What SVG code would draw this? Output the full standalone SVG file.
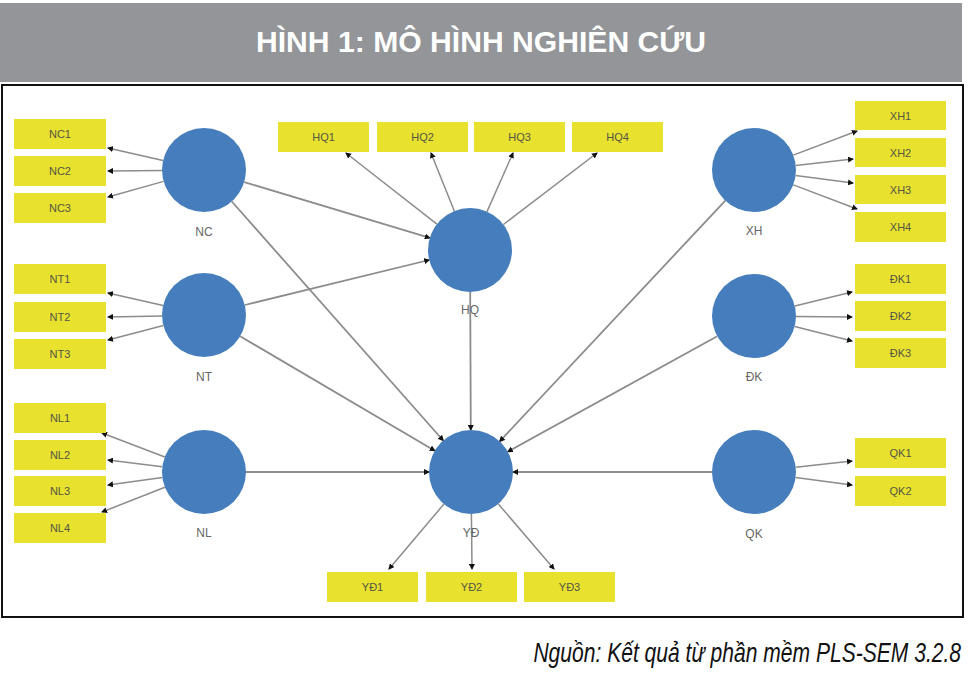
<svg xmlns="http://www.w3.org/2000/svg" width="973" height="673" viewBox="0 0 973 673">
<defs>
<style>
.lv{fill:#467ebd}
.box{fill:#e8e12d}
.bt{font-family:"Liberation Sans",Arial,sans-serif;font-size:11px;fill:#555548;text-anchor:middle;dominant-baseline:central}
.lt{font-family:"Liberation Sans",Arial,sans-serif;font-size:12px;fill:#666;text-anchor:middle;dominant-baseline:central}
.out{stroke:#8c8c8c;stroke-width:1.5;fill:none;marker-end:url(#ah)}
.in{stroke:#8c8c8c;stroke-width:1.8;fill:none;marker-end:url(#ah)}
</style>
<marker id="ah" markerUnits="userSpaceOnUse" markerWidth="6" markerHeight="6" refX="5" refY="3" orient="auto">
<path d="M0,0 L6,3 L0,6 z" fill="#111"/>
</marker>
</defs>
<rect x="0" y="0" width="973" height="673" fill="#fff"/>
<g id="header">
<rect x="0" y="3" width="962" height="79" fill="#939598"/>
<text x="256" y="52" font-family="'Liberation Sans',Arial,sans-serif" font-weight="bold" font-size="30" fill="#fff" textLength="450" lengthAdjust="spacingAndGlyphs">HÌNH 1: MÔ HÌNH NGHIÊN CỨU</text>
</g>
<rect id="frame" x="2" y="85" width="961" height="532" fill="#fff" stroke="#111" stroke-width="2"/>

<g id="connectors">
<path class="out" d="M163.1,160.6 L108,148"/>
<path class="out" d="M162,170.4 L108,171"/>
<path class="out" d="M163.6,181.4 L108,197"/>
<path class="out" d="M163.1,305.6 L108,293"/>
<path class="out" d="M162,315.9 L108,317"/>
<path class="out" d="M163.4,325.6 L108,340"/>
<path class="out" d="M164.8,457 L102,433"/>
<path class="out" d="M162.3,466.8 L108,460"/>
<path class="out" d="M162.4,477.6 L108,485"/>
<path class="out" d="M164.9,487.3 L102,512"/>
<path class="out" d="M436.9,224.1 L346,153"/>
<path class="out" d="M454.3,211 L431,153"/>
<path class="out" d="M487,211.6 L513,153"/>
<path class="out" d="M503.4,224.5 L597,153"/>
<path class="out" d="M443.9,504.1 L389,569"/>
<path class="out" d="M471.4,514 L472,569"/>
<path class="out" d="M498.3,503.9 L554,569"/>
<path class="out" d="M793.3,155.1 L857,131"/>
<path class="out" d="M795.7,165.4 L853,159"/>
<path class="out" d="M795.6,175.5 L853,183"/>
<path class="out" d="M793.3,184.9 L857,209"/>
<path class="out" d="M794.8,306 L852,292"/>
<path class="out" d="M796,316.4 L852,317"/>
<path class="out" d="M794.7,326.4 L852,341"/>
<path class="out" d="M795.7,467.3 L852,461"/>
<path class="out" d="M795.6,477.5 L852,485"/>
<path class="in" d="M244.2,182.1 L429.8,237.9"/>
<path class="in" d="M244.8,305 L429.2,260"/>
<path class="in" d="M231.8,201.5 L443.2,440.5"/>
<path class="in" d="M240.2,336.3 L434.8,450.7"/>
<path class="in" d="M246,472 L429,472"/>
<path class="in" d="M470.2,292 L470.8,430"/>
<path class="in" d="M725.3,200.6 L499.7,441.4"/>
<path class="in" d="M717.2,336.3 L507.8,451.7"/>
<path class="in" d="M712,472 L513,472"/>
</g>

<g id="NC"><circle class="lv" cx="204" cy="170" r="42"/><text class="lt" x="204" y="232">NC</text></g>
<g id="NT"><circle class="lv" cx="204" cy="315" r="42"/><text class="lt" x="204" y="377">NT</text></g>
<g id="NL"><circle class="lv" cx="204" cy="472" r="42"/><text class="lt" x="204" y="533">NL</text></g>
<g id="HQ"><circle class="lv" cx="470" cy="250" r="42"/><text class="lt" x="470" y="310">HQ</text></g>
<g id="YD"><circle class="lv" cx="471" cy="472" r="42"/><text class="lt" x="471" y="533">YĐ</text></g>
<g id="XH"><circle class="lv" cx="754" cy="170" r="42"/><text class="lt" x="754" y="231">XH</text></g>
<g id="DK"><circle class="lv" cx="754" cy="316" r="42"/><text class="lt" x="754" y="377">ĐK</text></g>
<g id="QK"><circle class="lv" cx="754" cy="472" r="42"/><text class="lt" x="754" y="534">QK</text></g>

<g id="NC1"><rect class="box" x="14" y="119" width="92" height="30"/><text class="bt" x="60" y="134">NC1</text></g>
<g id="NC2"><rect class="box" x="14" y="156" width="92" height="30"/><text class="bt" x="60" y="171">NC2</text></g>
<g id="NC3"><rect class="box" x="14" y="193" width="92" height="30"/><text class="bt" x="60" y="208">NC3</text></g>
<g id="NT1"><rect class="box" x="14" y="264" width="92" height="30"/><text class="bt" x="60" y="279">NT1</text></g>
<g id="NT2"><rect class="box" x="14" y="302" width="92" height="30"/><text class="bt" x="60" y="317">NT2</text></g>
<g id="NT3"><rect class="box" x="14" y="339" width="92" height="30"/><text class="bt" x="60" y="354">NT3</text></g>
<g id="NL1"><rect class="box" x="14" y="403" width="92" height="30"/><text class="bt" x="60" y="418">NL1</text></g>
<g id="NL2"><rect class="box" x="14" y="440" width="92" height="30"/><text class="bt" x="60" y="455">NL2</text></g>
<g id="NL3"><rect class="box" x="14" y="476" width="92" height="30"/><text class="bt" x="60" y="491">NL3</text></g>
<g id="NL4"><rect class="box" x="14" y="513" width="92" height="30"/><text class="bt" x="60" y="528">NL4</text></g>

<g id="HQ1"><rect class="box" x="278" y="122" width="91" height="30"/><text class="bt" x="323.5" y="137">HQ1</text></g>
<g id="HQ2"><rect class="box" x="377" y="122" width="91" height="30"/><text class="bt" x="422.5" y="137">HQ2</text></g>
<g id="HQ3"><rect class="box" x="474" y="122" width="91" height="30"/><text class="bt" x="519.5" y="137">HQ3</text></g>
<g id="HQ4"><rect class="box" x="572" y="122" width="91" height="30"/><text class="bt" x="617.5" y="137">HQ4</text></g>

<g id="YD1"><rect class="box" x="327" y="572" width="91" height="30"/><text class="bt" x="372.5" y="587">YĐ1</text></g>
<g id="YD2"><rect class="box" x="426" y="572" width="91" height="30"/><text class="bt" x="471.5" y="587">YĐ2</text></g>
<g id="YD3"><rect class="box" x="524" y="572" width="91" height="30"/><text class="bt" x="569.5" y="587">YĐ3</text></g>

<g id="XH1"><rect class="box" x="855" y="101" width="91" height="29"/><text class="bt" x="900.5" y="115.5">XH1</text></g>
<g id="XH2"><rect class="box" x="855" y="138" width="91" height="29"/><text class="bt" x="900.5" y="152.5">XH2</text></g>
<g id="XH3"><rect class="box" x="855" y="175" width="91" height="29"/><text class="bt" x="900.5" y="189.5">XH3</text></g>
<g id="XH4"><rect class="box" x="855" y="212" width="91" height="30"/><text class="bt" x="900.5" y="227">XH4</text></g>
<g id="DK1"><rect class="box" x="855" y="264" width="91" height="30"/><text class="bt" x="900.5" y="279">ĐK1</text></g>
<g id="DK2"><rect class="box" x="855" y="301" width="91" height="30"/><text class="bt" x="900.5" y="316">ĐK2</text></g>
<g id="DK3"><rect class="box" x="855" y="338" width="91" height="30"/><text class="bt" x="900.5" y="353">ĐK3</text></g>
<g id="QK1"><rect class="box" x="855" y="438" width="91" height="30"/><text class="bt" x="900.5" y="453">QK1</text></g>
<g id="QK2"><rect class="box" x="855" y="476" width="91" height="30"/><text class="bt" x="900.5" y="491">QK2</text></g>

<text id="caption" transform="translate(961,662) scale(0.78,1)" x="0" y="0" font-family="'Liberation Sans',Arial,sans-serif" font-style="italic" font-size="27" fill="#111" text-anchor="end">Nguồn: Kết quả từ phần mềm PLS-SEM 3.2.8</text>
</svg>
